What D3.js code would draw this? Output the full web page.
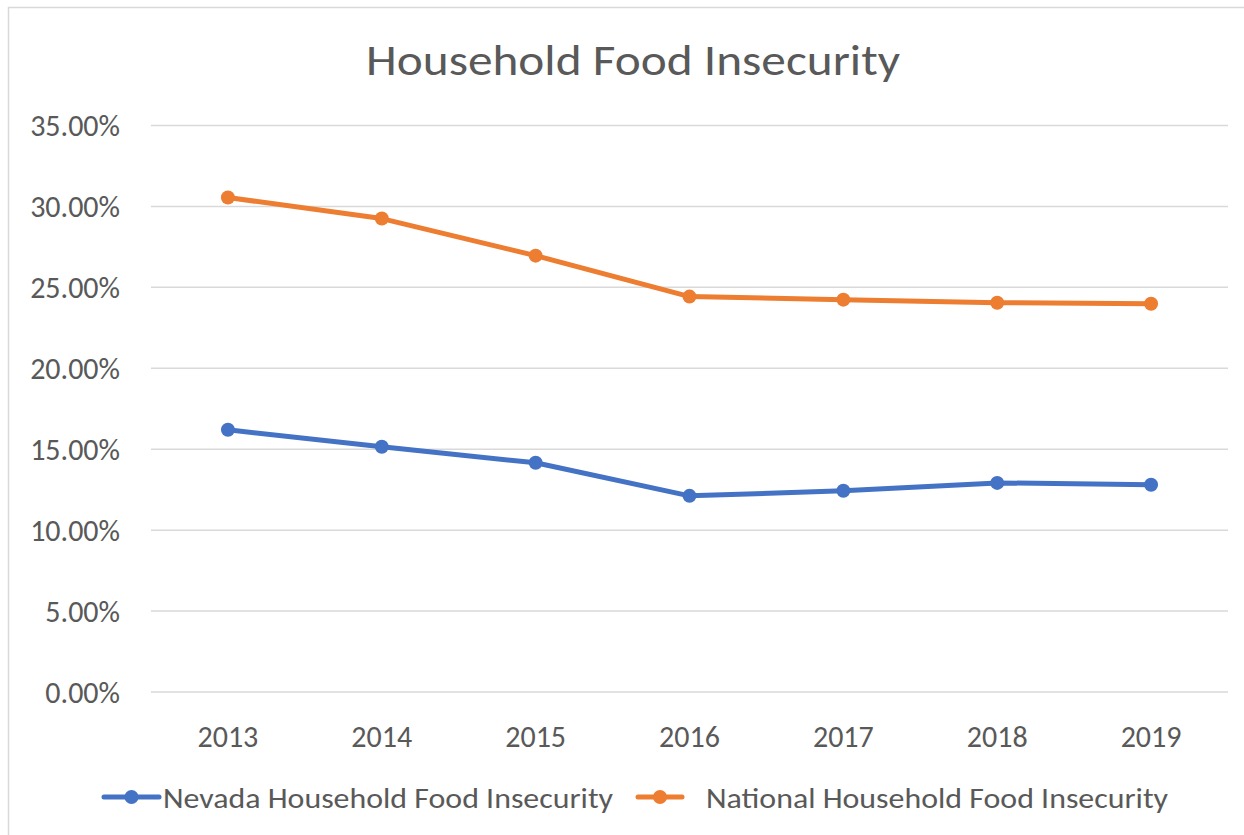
<!DOCTYPE html>
<html>
<head>
<meta charset="utf-8">
<script src="https://cdn.jsdelivr.net/npm/d3@7"></script>
<style>
  body { margin: 0; background: #fff; }
  svg { display: block; }
</style>
</head>
<body>
<svg width="1244" height="835"></svg>
<script>
const years = ['2013', '2014', '2015', '2016', '2017', '2018', '2019']
const nevada = [0.162, 0.1515, 0.1416, 0.1212, 0.1243, 0.1292, 0.128]
const national = [0.3055, 0.2925, 0.2696, 0.2443, 0.2424, 0.2405, 0.2399]
const yTicks = [0, 0.05, 0.10, 0.15, 0.20, 0.25, 0.30, 0.35]

const seriesList = [
  { name: 'Nevada Household Food Insecurity', values: nevada, color: '#4472C4' },
  { name: 'National Household Food Insecurity', values: national, color: '#ED7D31' }
]

const font = 'Calibri, Carlito, "Open Sans", sans-serif'
const textColor = '#595959'

const svg = d3.select('svg')

// chart frame
svg.append('rect')
  .attr('x', 8.5).attr('y', 7.5)
  .attr('width', 1300).attr('height', 900)
  .attr('fill', '#fff').attr('stroke', '#d9d9d9').attr('stroke-width', 1.5)

const plotLeft = 151, plotRight = 1228, plotTop = 125.5, plotBottom = 692

const x = d3.scalePoint().domain(years).range([plotLeft, plotRight]).padding(0.5)
const y = d3.scaleLinear().domain([0, 0.35]).range([plotBottom, plotTop])

// title
svg.append('text')
  .attr('x', 633).attr('y', 75)
  .attr('text-anchor', 'middle')
  .attr('font-family', font).attr('font-size', 43)
  .attr('fill', textColor)
  .attr('textLength', 534).attr('lengthAdjust', 'spacingAndGlyphs')
  .text('Household Food Insecurity')

// gridlines
svg.append('g')
  .selectAll('line')
  .data(yTicks)
  .join('line')
  .attr('x1', plotLeft).attr('x2', plotRight)
  .attr('y1', d => y(d)).attr('y2', d => y(d))
  .attr('stroke', '#d9d9d9').attr('stroke-width', 1.5)

// y tick labels
svg.append('g')
  .selectAll('text')
  .data(yTicks)
  .join('text')
  .attr('x', 120).attr('y', d => y(d))
  .attr('dy', '0.35em')
  .attr('text-anchor', 'end')
  .attr('font-family', font).attr('font-size', 30)
  .attr('fill', textColor)
  .text(d => d3.format('.2%')(d))

// x tick labels
svg.append('g')
  .selectAll('text')
  .data(years)
  .join('text')
  .attr('x', d => x(d)).attr('y', 736)
  .attr('dy', '0.35em')
  .attr('text-anchor', 'middle')
  .attr('font-family', font).attr('font-size', 30)
  .attr('fill', textColor)
  .text(d => d)

const line = d3.line()
  .x((d, i) => x(years[i]))
  .y(d => y(d))

seriesList.forEach(s => {
  const g = svg.append('g')
  g.append('path')
    .datum(s.values)
    .attr('d', line)
    .attr('fill', 'none')
    .attr('stroke', s.color)
    .attr('stroke-width', 5)
    .attr('stroke-linejoin', 'round')
  g.selectAll('circle')
    .data(s.values)
    .join('circle')
    .attr('cx', (d, i) => x(years[i]))
    .attr('cy', d => y(d))
    .attr('r', 7)
    .attr('fill', s.color)
})

// legend
const legendItems = [
  { x0: 104, x1: 159, tx: 163, tw: 450 },
  { x0: 638, x1: 682, tx: 706, tw: 462 }
]
seriesList.forEach((s, i) => {
  const L = legendItems[i]
  const g = svg.append('g')
  g.append('line')
    .attr('x1', L.x0).attr('x2', L.x1)
    .attr('y1', 797).attr('y2', 797)
    .attr('stroke', s.color).attr('stroke-width', 5)
    .attr('stroke-linecap', 'round')
  g.append('circle')
    .attr('cx', (L.x0 + L.x1) / 2).attr('cy', 797)
    .attr('r', 7).attr('fill', s.color)
  g.append('text')
    .attr('x', L.tx).attr('y', 798)
    .attr('dy', '0.35em')
    .attr('font-family', font).attr('font-size', 29)
    .attr('fill', textColor)
    .attr('textLength', L.tw).attr('lengthAdjust', 'spacingAndGlyphs')
    .text(s.name)
})
</script>
</body>
</html>
